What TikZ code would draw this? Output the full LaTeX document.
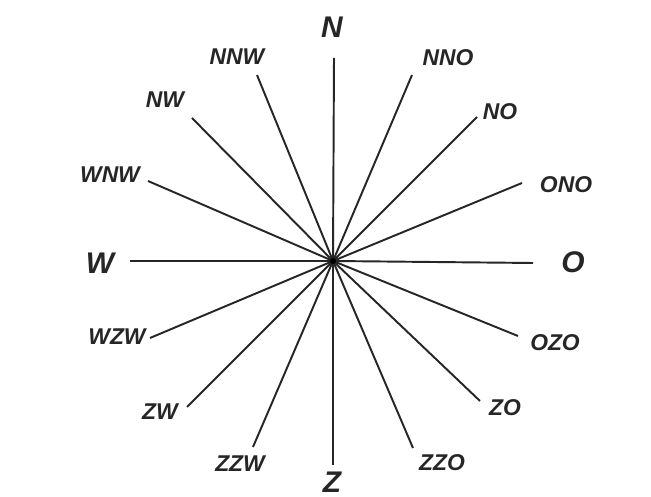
\documentclass[tikz,border=0pt]{standalone}
\usepackage{fontspec}
\setmainfont{Liberation Sans}
\usetikzlibrary{positioning}

\begin{document}
\begin{tikzpicture}[
ray/.style={draw=black!85, line width=1.1pt},
lbl/.style={font=\fontsize{13}{13}\selectfont\bfseries\itshape, text=black!85, inner sep=0pt},
mainlbl/.style={font=\fontsize{17}{17}\selectfont\bfseries\itshape, text=black!85, inner sep=0pt}]
\useasboundingbox[fill=white] (-6.66,-4.72) rectangle (6.36,5.22);
% centre
\coordinate (c) at (0,0);
% ends of the rays
\coordinate (eN) at (0.02,4.06);
\coordinate (eNNO) at (1.58,3.72);
\coordinate (eNO) at (2.88,2.88);
\coordinate (eONO) at (3.78,1.56);
\coordinate (eO) at (4.00,-0.04);
\coordinate (eOZO) at (3.70,-1.50);
\coordinate (eZO) at (2.94,-2.80);
\coordinate (eZZO) at (1.60,-3.74);
\coordinate (eZ) at (0,-4.08);
\coordinate (eZZW) at (-1.60,-3.72);
\coordinate (eZW) at (-2.92,-2.92);
\coordinate (eWZW) at (-3.66,-1.54);
\coordinate (eW) at (-4.06,0);
\coordinate (eWNW) at (-3.70,1.60);
\coordinate (eNW) at (-2.82,2.86);
\coordinate (eNNW) at (-1.52,3.72);
% rays
\draw[ray] (c) -- (eN); \draw[ray] (c) -- (eNNO);
\draw[ray] (c) -- (eNO); \draw[ray] (c) -- (eONO);
\draw[ray] (c) -- (eO); \draw[ray] (c) -- (eOZO);
\draw[ray] (c) -- (eZO); \draw[ray] (c) -- (eZZO);
\draw[ray] (c) -- (eZ); \draw[ray] (c) -- (eZZW);
\draw[ray] (c) -- (eZW); \draw[ray] (c) -- (eWZW);
\draw[ray] (c) -- (eW); \draw[ray] (c) -- (eWNW);
\draw[ray] (c) -- (eNW); \draw[ray] (c) -- (eNNW);
\fill[black] (c) circle (0.06);
% labels
\node[mainlbl] (lN) at (-0.02,4.68) {N};
\node[lbl] (lNNO) at (2.30,4.06) {NNO};
\node[lbl] (lNO) at (3.34,2.98) {NO};
\node[lbl] (lONO) at (4.66,1.52) {ONO};
\node[mainlbl] (lO) at (4.80,-0.02) {O};
\node[lbl] (lOZO) at (4.44,-1.64) {OZO};
\node[lbl] (lZO) at (3.44,-2.94) {ZO};
\node[lbl] (lZZO) at (2.18,-4.04) {ZZO};
\node[mainlbl] (lZ) at (-0.02,-4.42) {Z};
\node[lbl] (lZZW) at (-1.86,-4.06) {ZZW};
\node[lbl] (lZW) at (-3.46,-3.02) {ZW};
\node[lbl] (lWZW) at (-4.32,-1.52) {WZW};
\node[mainlbl] (lW) at (-4.66,-0.04) {W};
\node[lbl] (lWNW) at (-4.46,1.72) {WNW};
\node[lbl] (lNW) at (-3.36,3.22) {NW};
\node[lbl] (lNNW) at (-1.92,4.08) {NNW};
\end{tikzpicture}
\end{document}
